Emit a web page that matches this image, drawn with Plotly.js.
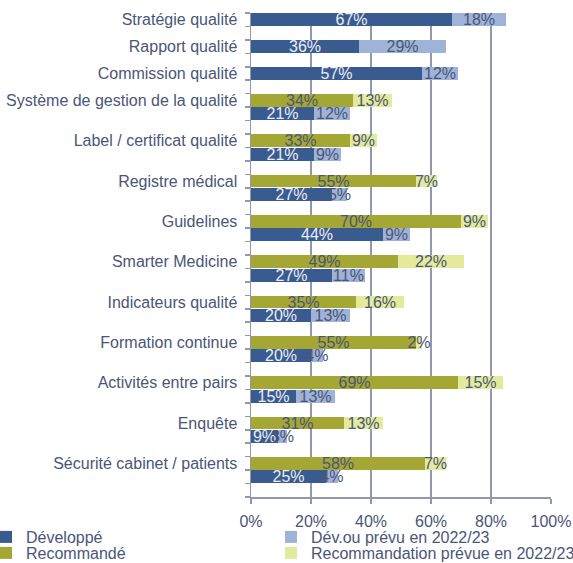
<!DOCTYPE html>
<html>
<head>
<meta charset="utf-8">
<script src="https://cdn.plot.ly/plotly-3.0.1.min.js"></script>
<style>html,body{margin:0;padding:0;background:#fff;}#chart{width:573px;height:563px;}</style>
</head>
<body>
<div id="chart"></div>
<script>
const categories = ["Stratégie qualité","Rapport qualité","Commission qualité","Système de gestion de la qualité","Label / certificat qualité","Registre médical","Guidelines","Smarter Medicine","Indicateurs qualité","Formation continue","Activités entre pairs","Enquête","Sécurité cabinet / patients"];
const developpe   = [67,36,57,21,21,27,44,27,20,20,15,9,25];
const devPrevu    = [18,29,12,12,9,5,9,11,13,4,13,3,4];
const recommande  = [null,null,null,34,33,55,70,49,35,55,69,31,58];
const recoPrevu   = [null,null,null,13,9,7,9,22,16,2,15,13,7];
const xTicks = [0,20,40,60,80,100];

// slot layout: single-bar categories take bar + gap; paired categories take green, blue, gap
const blueSlot = [], greenSlot = [], labelSlot = [];
let s = 0;
categories.forEach((c, i) => {
  if (recommande[i] === null) { blueSlot.push(s); greenSlot.push(null); labelSlot.push(s); s += 2; }
  else { greenSlot.push(s); blueSlot.push(s + 1); labelSlot.push(s); s += 3; }
});
const nSlots = s;
const gIdx = categories.map((c,i)=>i).filter(i => recommande[i] !== null);

const FONT = 'Liberation Sans, Arial, sans-serif';
const TXT = '#4a5677';
const pct = v => v + '%';
const common = {type:'bar', orientation:'h', width:0.95, textposition:'inside', insidetextanchor:'middle',
  constraintext:'none', textangle:0, cliponaxis:false, hoverinfo:'skip'};

const traces = [
  Object.assign({}, common, {name:'Développé', x:developpe, y:blueSlot, text:developpe.map(pct),
    marker:{color:'#3a5b8f'}, textfont:{color:'#e9edf5', size:16, family:FONT}, legend:'legend'}),
  Object.assign({}, common, {name:'Dév.ou prévu en 2022/23', x:devPrevu, y:blueSlot, text:devPrevu.map(pct),
    marker:{color:'#9fb3d9'}, textfont:{color:TXT, size:16, family:FONT}, legend:'legend3'}),
  Object.assign({}, common, {name:'Recommandé', x:gIdx.map(i=>recommande[i]), y:gIdx.map(i=>greenSlot[i]),
    text:gIdx.map(i=>pct(recommande[i])), marker:{color:'#a4a734'}, textfont:{color:TXT, size:16, family:FONT}, legend:'legend2'}),
  Object.assign({}, common, {name:'Recommandation prévue en 2022/23', x:gIdx.map(i=>recoPrevu[i]), y:gIdx.map(i=>greenSlot[i]),
    text:gIdx.map(i=>pct(recoPrevu[i])), marker:{color:'#e3ea9c'}, textfont:{color:TXT, size:16, family:FONT}, legend:'legend4'})
];

const GRID = '#9098ad';
const plotTop = 13, plotBottom = 497, figH = 563;
const py = p => (plotBottom - p) / (plotBottom - plotTop);
const px = p => (p - 251) / 300;
const legBase = {orientation:'v', xanchor:'left', yanchor:'middle', bgcolor:'rgba(0,0,0,0)',
  font:{family:FONT, size:16, color:TXT}, itemclick:false, itemdoubleclick:false};

const layout = {
  width:573, height:figH,
  margin:{l:251, r:22, t:plotTop, b:figH-plotBottom, pad:0, autoexpand:false},
  paper_bgcolor:'#ffffff', plot_bgcolor:'#ffffff',
  barmode:'stack',
  font:{family:FONT, size:16, color:TXT},
  xaxis:{range:[0,100], tickvals:xTicks, ticktext:xTicks.map(pct), showgrid:true, gridcolor:GRID, gridwidth:1.5,
    zeroline:false, showline:true, linecolor:GRID, linewidth:1.5, ticks:'outside', ticklen:5, tickcolor:GRID,
    tickwidth:1.5, tickfont:{size:16, color:TXT}, ticklabelstandoff:4, fixedrange:true},
  yaxis:{range:[nSlots-0.5, -0.5], tickmode:'array', tickvals:labelSlot, ticktext:categories, ticks:'',
    showgrid:false, zeroline:false, showline:true, linecolor:GRID, linewidth:1.5, tickfont:{size:16, color:TXT},
    ticklabelstandoff:9, fixedrange:true,
    minor:{tickmode:'linear', tick0:-0.5, dtick:1, ticks:'outside', ticklen:5, tickcolor:GRID, tickwidth:1.5, showgrid:false}},
  showlegend:true,
  legend: Object.assign({}, legBase, {x:px(-14), y:py(537)}),
  legend2:Object.assign({}, legBase, {x:px(-14), y:py(553)}),
  legend3:Object.assign({}, legBase, {x:px(271), y:py(537)}),
  legend4:Object.assign({}, legBase, {x:px(271), y:py(553)})
};

Plotly.newPlot('chart', traces, layout, {displayModeBar:false, staticPlot:true});
</script>
</body>
</html>
